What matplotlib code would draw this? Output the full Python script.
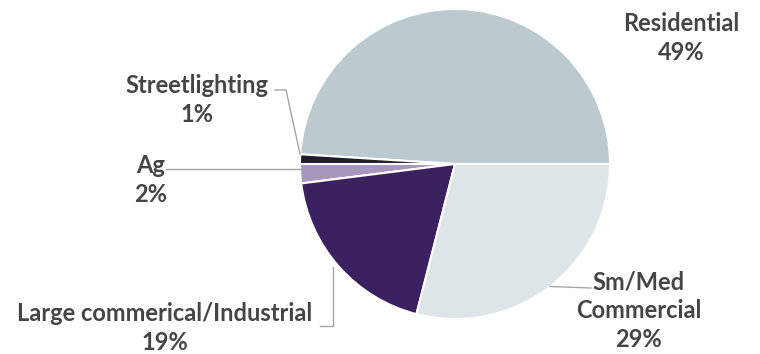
import numpy as np
import matplotlib
matplotlib.use('Agg')
import matplotlib.pyplot as plt

# Share of load by customer class
labels = ['Residential', 'Streetlighting', 'Ag', 'Large commerical/Industrial', 'Sm/Med\nCommercial']
shares = [49, 1, 2, 19, 29]
colors = ['#bccacf', '#1f1b2e', '#a797bb', '#3c2160', '#dde5e8']

W, H = 760, 354
fig = plt.figure(figsize=(W / 100, H / 100), dpi=100)
ax = fig.add_axes([0, 0, 1, 1])

cx, cy, r = 455, H - 164, 155
wedges, _ = ax.pie(shares, colors=colors, startangle=0, counterclock=True,
                   center=(cx, cy), radius=r,
                   wedgeprops=dict(edgecolor='white', linewidth=1.5))
ax.set_xlim(0, W)
ax.set_ylim(0, H)
ax.set_aspect('equal')
ax.axis('off')

txt = dict(fontsize=17, fontweight='bold', color='#454545', family='Lato',
           ha='center', va='center', linespacing=1.3)
line = dict(color='#a6a6a6', lw=1)

# label position (image pixel coords) and leader path
label_pos = [(681, 38), (197, 100), (151, 180), (165, 328), (639, 311)]
leaders = [None,
           [(275, 90), (286, 90)],
           [(166, 168)],
           [(333, 326), (320, 326)],
           [(591, 288)]]

for w, lab, pct, pos, path in zip(wedges, labels, shares, label_pos, leaders):
    ax.text(pos[0], H - pos[1], f'{lab}\n{pct}%', **txt)
    if path is None:
        continue
    mid = np.deg2rad((w.theta1 + w.theta2) / 2)
    ex, ey = cx + r * np.cos(mid), cy + r * np.sin(mid)
    if lab.startswith('Large'):
        pts = [(path[0][0], ey)] + [(px, H - py) for px, py in path]
    elif lab == 'Ag':
        pts = [(ex, ey + 5), (path[0][0], ey + 5)]
    elif lab == 'Streetlighting':
        pts = [(ex, ey + 5)] + [(px, H - py) for px, py in path[::-1]]
    else:
        pts = [(ex, ey)] + [(px, H - py) for px, py in path]
    xs, ys = zip(*pts)
    ax.plot(xs, ys, **line)

fig.savefig('out.png', dpi=100)
